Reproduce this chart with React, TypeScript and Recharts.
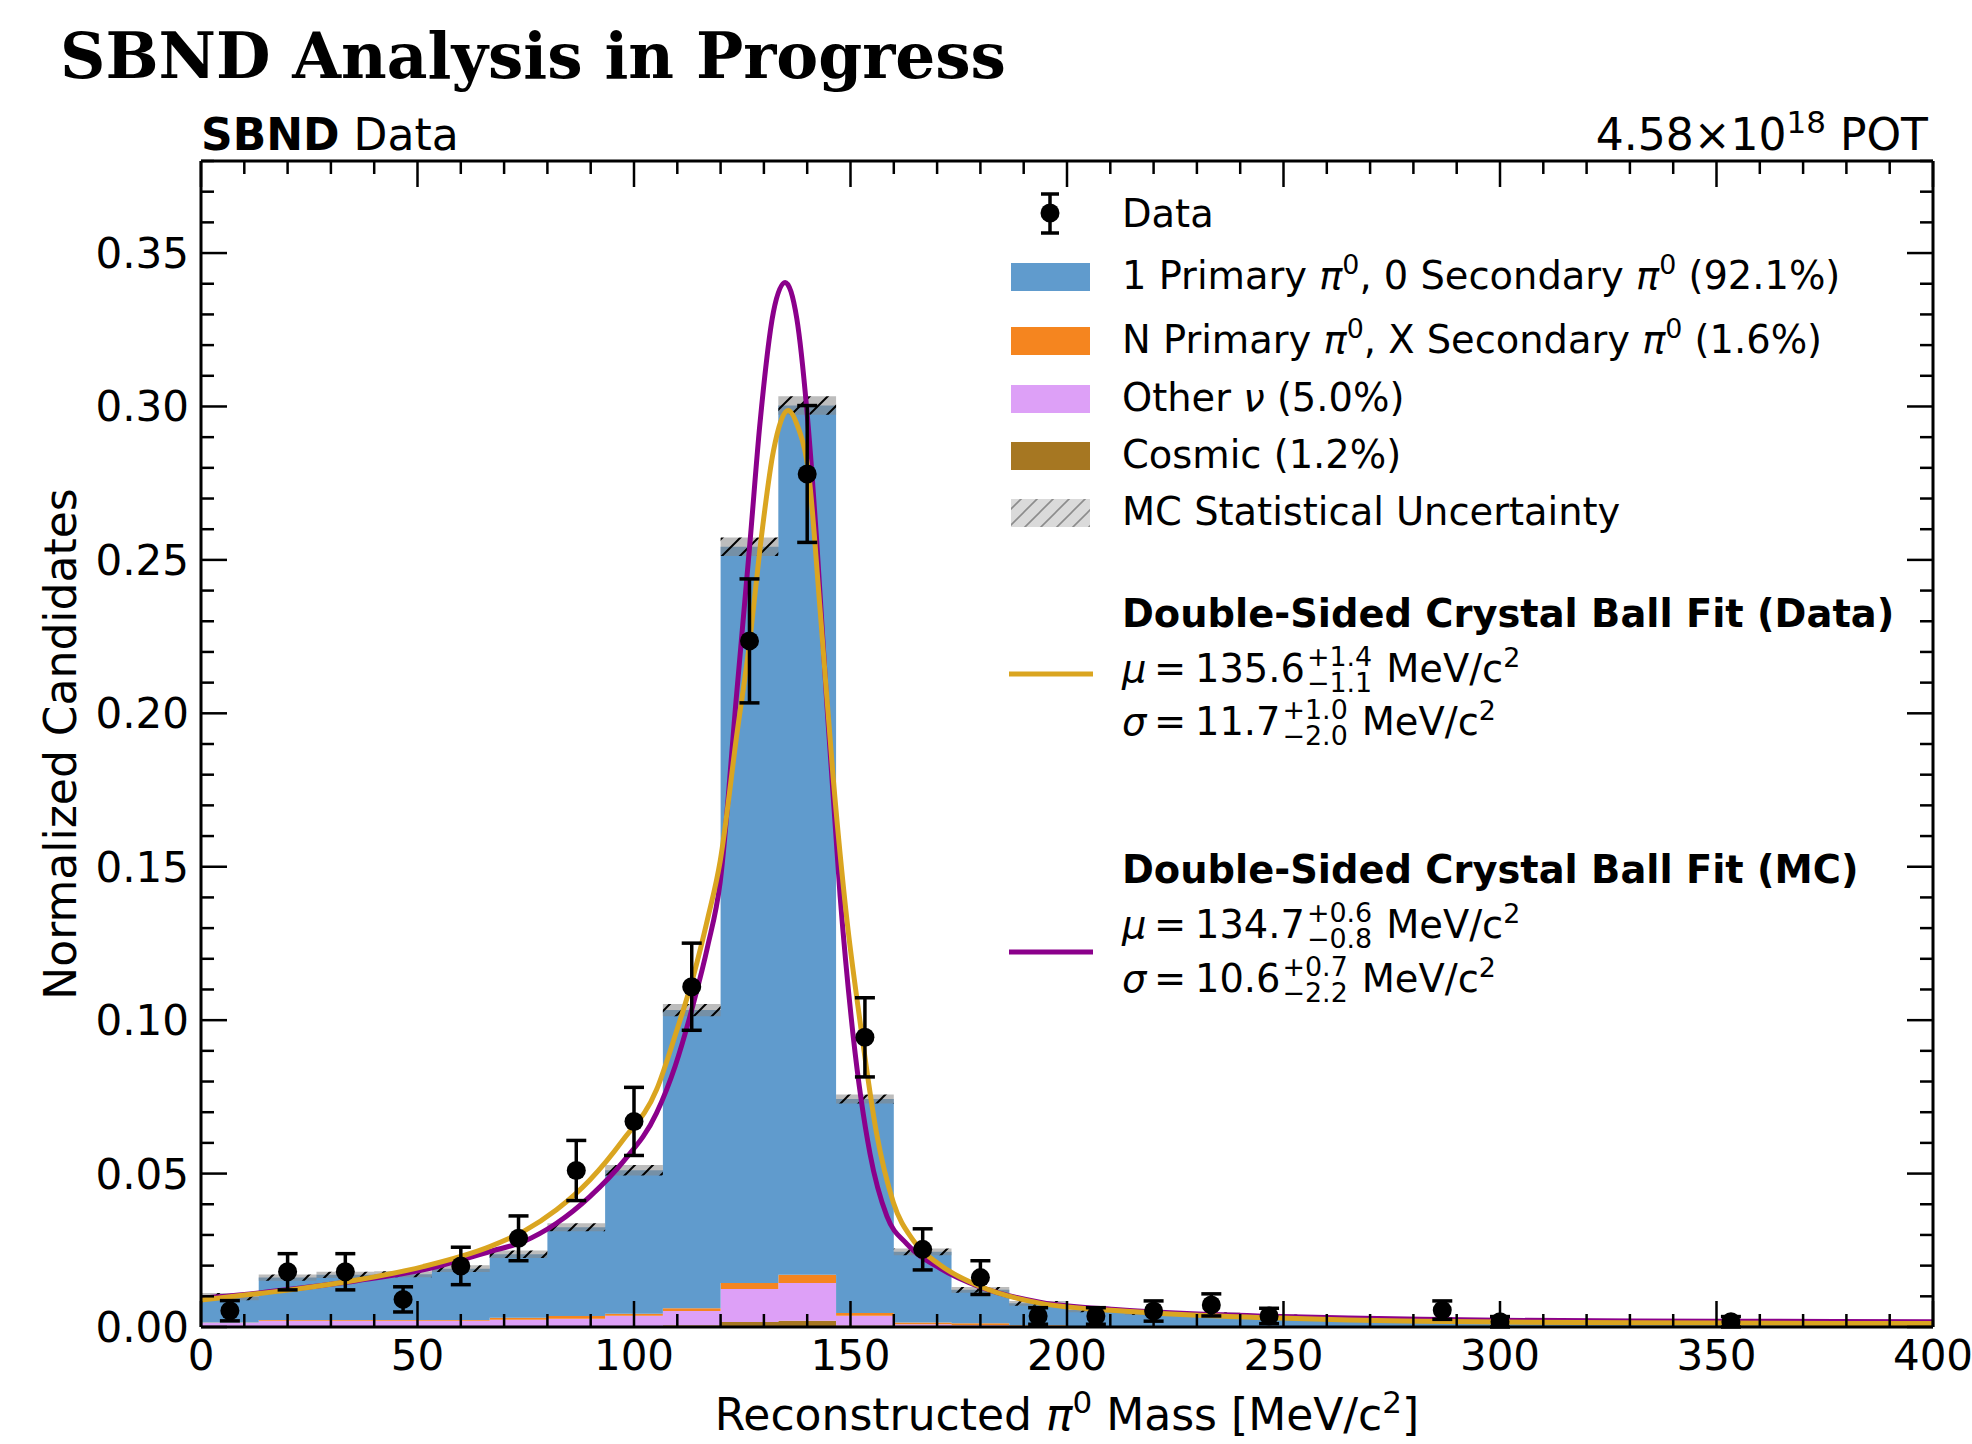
import React from "react";
import { ComposedChart, Area, Line, Scatter, ErrorBar, XAxis, YAxis } from "recharts";

const FONT = "DejaVu Sans";

// histogram bin edges (MeV/c^2), 30 bins
const BIN_EDGES = [
  0, 13.33, 26.67, 40, 53.33, 66.67, 80, 93.33, 106.67, 120, 133.33, 146.67, 160, 173.33, 186.67,
  200, 213.33, 226.67, 240, 253.33, 266.67, 280, 293.33, 306.67, 320, 333.33, 346.67, 360, 373.33, 386.67, 400,
];

// stacked MC components, one value per bin
const COSMIC = [
  0.0002, 0.0002, 0.0002, 0.0002, 0.0002, 0.0002, 0.0003, 0.0003, 0.0006, 0.0016, 0.002, 0.0005, 0.0002, 0.0001, 0.0001,
  0, 0, 0, 0, 0, 0, 0, 0, 0, 0, 0, 0, 0, 0, 0,
];
const OTHER_NU = [
  0.0012, 0.0018, 0.0018, 0.0018, 0.0018, 0.0022, 0.0024, 0.0034, 0.0046, 0.0108, 0.0123, 0.0032, 0.0007, 0.0005, 0.0002,
  0.0001, 0.0001, 0.0001, 0.0001, 0.0001, 0.0001, 0.0001, 0, 0, 0, 0, 0, 0, 0, 0,
];
const N_PRIMARY = [
  0.0001, 0.0003, 0.0003, 0.0003, 0.0003, 0.0006, 0.0009, 0.0006, 0.0009, 0.0019, 0.0027, 0.0009, 0.0006, 0.0006, 0.0003,
  0.0001, 0.0001, 0.0001, 0.0001, 0.0001, 0, 0, 0, 0, 0, 0, 0, 0, 0, 0,
];
const ONE_PRIMARY = [
  0.0084, 0.0138, 0.0147, 0.0149, 0.0167, 0.0207, 0.0289, 0.0468, 0.0972, 0.24, 0.2833, 0.0697, 0.023, 0.0109, 0.0071,
  0.0053, 0.0043, 0.004, 0.0033, 0.0028, 0.0026, 0.0023, 0.0021, 0.0019, 0.0017, 0.0016, 0.0015, 0.0014, 0.0013, 0.0012,
];
const MC_STAT_ERR = [
  0.0012, 0.001, 0.001, 0.001, 0.0011, 0.0012, 0.0013, 0.0017, 0.002, 0.003, 0.003, 0.0015, 0.0011, 0.0009, 0.0008,
  0.0007, 0.0006, 0.0006, 0.0006, 0.0005, 0.0005, 0.0005, 0.0005, 0.0004, 0.0004, 0.0004, 0.0004, 0.0004, 0.0004, 0.0004,
];

// data points
const DATA_X = [6.67, 20, 33.33, 46.67, 60, 73.33, 86.67, 100, 113.33, 126.67, 140, 153.33, 166.67, 180, 193.33, 206.67, 220, 233.33, 246.67, 286.67, 300, 353.33];
const DATA_Y = [0.0053, 0.018, 0.018, 0.009, 0.0199, 0.0289, 0.051, 0.067, 0.1109, 0.2236, 0.278, 0.0944, 0.0253, 0.0161, 0.0036, 0.0036, 0.0052, 0.0072, 0.0036, 0.0055, 0.0017, 0.0017];
const DATA_ERR = [0.0033, 0.0059, 0.0059, 0.0041, 0.0061, 0.0073, 0.0098, 0.0111, 0.0142, 0.0202, 0.0223, 0.0129, 0.0067, 0.0055, 0.0027, 0.0027, 0.0033, 0.0036, 0.0025, 0.003, 0.0017, 0.0017];

// fitted curves
const FIT_DATA_X = [0, 10, 20.6, 36, 51.3, 66.7, 74.4, 82.1, 89.8, 97.5, 105.2, 109.5, 113.7, 117, 119.9, 123.7, 126.8, 129.1, 132.2, 135.6, 137.8, 140.3, 143, 146, 149.1, 152.2, 156, 159.9, 164.5, 170.7, 180, 194, 212, 229, 247, 265, 282, 300, 350, 400];
const FIT_DATA_Y = [0.0088, 0.0104, 0.0121, 0.0153, 0.0197, 0.0262, 0.0311, 0.0382, 0.0479, 0.061, 0.0773, 0.095, 0.1143, 0.133, 0.1518, 0.1926, 0.2243, 0.2537, 0.2855, 0.2987, 0.2935, 0.2787, 0.2334, 0.179, 0.1336, 0.0996, 0.0633, 0.0406, 0.0282, 0.0202, 0.0132, 0.0077, 0.0053, 0.0039, 0.003, 0.0023, 0.0019, 0.0016, 0.0013, 0.0011];
const FIT_MC_X = [0, 10, 20.6, 36, 51.3, 66.7, 74.4, 82.1, 89.8, 97.5, 105.2, 109.5, 113.7, 117, 119.9, 123.7, 126.8, 129.1, 132.2, 134.9, 137.6, 139.9, 142.2, 144.5, 147.6, 150.6, 154.5, 158.4, 163, 170.7, 180, 194, 212, 229, 247, 265, 282, 300, 350, 400];
const FIT_MC_Y = [0.0094, 0.0106, 0.0123, 0.0151, 0.0186, 0.0246, 0.0278, 0.0338, 0.0425, 0.0539, 0.0697, 0.085, 0.1053, 0.124, 0.145, 0.2062, 0.256, 0.2946, 0.3308, 0.3404, 0.3286, 0.2991, 0.256, 0.2039, 0.1404, 0.0951, 0.0565, 0.0361, 0.0271, 0.0191, 0.013, 0.008, 0.0056, 0.0043, 0.0035, 0.0029, 0.0025, 0.0022, 0.0019, 0.0017];

const X_TICKS = [0, 10, 20, 30, 40, 50, 60, 70, 80, 90, 100, 110, 120, 130, 140, 150, 160, 170, 180, 190, 200, 210, 220, 230, 240, 250, 260, 270, 280, 290, 300, 310, 320, 330, 340, 350, 360, 370, 380, 390, 400];
const Y_TICKS = [0, 0.01, 0.02, 0.03, 0.04, 0.05, 0.06, 0.07, 0.08, 0.09, 0.1, 0.11, 0.12, 0.13, 0.14, 0.15, 0.16, 0.17, 0.18, 0.19, 0.2, 0.21, 0.22, 0.23, 0.24, 0.25, 0.26, 0.27, 0.28, 0.29, 0.3, 0.31, 0.32, 0.33, 0.34, 0.35, 0.36, 0.37, 0.38];

const BLUE = "#609bcd";
const ORANGE = "#f5851f";
const PINK = "#dda0f7";
const BROWN = "#a67722";
const GOLD = "#daa520";
const PURPLE = "#8b008b";

const HIST_ROWS = BIN_EDGES.map((x, i) => {
  const b = Math.min(i, ONE_PRIMARY.length - 1);
  const total = COSMIC[b] + OTHER_NU[b] + N_PRIMARY[b] + ONE_PRIMARY[b];
  return {
    x,
    cosmic: COSMIC[b],
    otherNu: OTHER_NU[b],
    nPrimary: N_PRIMARY[b],
    onePrimary: ONE_PRIMARY[b],
    band: [total - MC_STAT_ERR[b], total + MC_STAT_ERR[b]],
  };
});
const DATA_ROWS = DATA_X.map((x, i) => ({ x, y: DATA_Y[i], err: DATA_ERR[i] }));
const FIT_DATA_ROWS = FIT_DATA_X.map((x, i) => ({ x, y: FIT_DATA_Y[i] }));
const FIT_MC_ROWS = FIT_MC_X.map((x, i) => ({ x, y: FIT_MC_Y[i] }));

const isMajorX = (v: number) => Math.round(v) % 50 === 0;
const isMajorY = (v: number) => Math.round(v * 100) % 5 === 0;

function BottomTick({ x, y, payload }: any) {
  const major = isMajorX(payload.value);
  return (
    <g>
      <line x1={x} x2={x} y1={y} y2={y - (major ? 26 : 13)} stroke="#000" strokeWidth={2.5} />
      {major && (
        <text x={x} y={y + 43} textAnchor="middle" fontSize={42} fontFamily={FONT} fill="#000">
          {payload.value}
        </text>
      )}
    </g>
  );
}

function TopTick({ x, y, payload }: any) {
  const major = isMajorX(payload.value);
  return <line x1={x} x2={x} y1={y} y2={y + (major ? 26 : 13)} stroke="#000" strokeWidth={2.5} />;
}

function LeftTick({ x, y, payload }: any) {
  const major = isMajorY(payload.value);
  return (
    <g>
      <line x1={x} x2={x + (major ? 26 : 13)} y1={y} y2={y} stroke="#000" strokeWidth={2.5} />
      {major && (
        <text x={x - 12} y={y + 15} textAnchor="end" fontSize={42} fontFamily={FONT} fill="#000">
          {payload.value.toFixed(2)}
        </text>
      )}
    </g>
  );
}

function RightTick({ x, y, payload }: any) {
  const major = isMajorY(payload.value);
  return <line x1={x} x2={x - (major ? 26 : 13)} y1={y} y2={y} stroke="#000" strokeWidth={2.5} />;
}

const DataDot = (p: any) => <circle cx={p.cx} cy={p.cy} r={9.5} fill="#000" />;

// rough advance widths for the math lines
const textWidth = (s: string, size: number) =>
  s.split("").reduce((w, c) => w + (c === "." ? 0.318 : c === "+" || c === "\u2212" ? 0.838 : 0.636), 0) * size;

const LEG = 38.4;
const SUP = LEG * 0.7;

function MathLine({ sym, value, up, down, y }: { sym: string; value: string; up: string; down: string; y: number }) {
  const xScripts = 1195 + textWidth(value, LEG) + 2;
  const xUnit = xScripts + Math.max(textWidth(up, SUP), textWidth(down, SUP)) + 14;
  return (
    <g fontFamily={FONT} fill="#000">
      <text x={1122} y={y} fontSize={LEG} fontStyle="italic">{sym}</text>
      <text x={1154} y={y} fontSize={LEG}>=</text>
      <text x={1195} y={y} fontSize={LEG}>{value}</text>
      <text x={xScripts} y={y - 16} fontSize={SUP}>{up}</text>
      <text x={xScripts} y={y + 10} fontSize={SUP}>{down}</text>
      <text x={xUnit} y={y} fontSize={LEG}>
        MeV/c<tspan dy={-15} fontSize={SUP}>2</tspan>
      </text>
    </g>
  );
}

function PionRow({ y, a, b, tail }: { y: number; a: string; b: string; tail: string }) {
  return (
    <text x={1122} y={y} fontFamily={FONT} fontSize={LEG} fill="#000">
      <tspan>{a} </tspan>
      <tspan fontStyle="italic">π</tspan>
      <tspan dy={-15} fontSize={SUP}>0</tspan>
      <tspan dy={15}>{", " + b + " "}</tspan>
      <tspan fontStyle="italic">π</tspan>
      <tspan dy={-15} fontSize={SUP}>0</tspan>
      <tspan dy={15}>{" " + tail}</tspan>
    </text>
  );
}

function Overlay() {
  return (
    <svg width={1972} height={1444} style={{ position: "absolute", left: 0, top: 0, pointerEvents: "none" }}>
      <text x={60} y={78} fontFamily="DejaVu Serif" fontWeight="bold" fontSize={64} textLength={946} lengthAdjust="spacingAndGlyphs" fill="#000">
        SBND Analysis in Progress
      </text>
      <text x={201} y={150} fontFamily={FONT} fontSize={44} fill="#000">
        <tspan fontWeight="bold">SBND</tspan>
        <tspan> Data</tspan>
      </text>
      <text x={1928} y={150} fontFamily={FONT} fontSize={44} textAnchor="end" fill="#000">
        <tspan>4.58×10</tspan>
        <tspan dy={-17} fontSize={31}>18</tspan>
        <tspan dy={17}> POT</tspan>
      </text>

      <text transform="translate(76,744) rotate(-90)" textAnchor="middle" fontFamily={FONT} fontSize={44} fill="#000">
        Normalized Candidates
      </text>
      <text x={1067} y={1430} textAnchor="middle" fontFamily={FONT} fontSize={44} fill="#000">
        <tspan>Reconstructed </tspan>
        <tspan fontStyle="italic">π</tspan>
        <tspan dy={-17} fontSize={31}>0</tspan>
        <tspan dy={17}> Mass [MeV/c</tspan>
        <tspan dy={-17} fontSize={31}>2</tspan>
        <tspan dy={17}>]</tspan>
      </text>

      {/* legend */}
      <g>
        <line x1={1050} x2={1050} y1={194} y2={233} stroke="#000" strokeWidth={3.5} />
        <line x1={1041} x2={1059} y1={194} y2={194} stroke="#000" strokeWidth={3.5} />
        <line x1={1041} x2={1059} y1={233} y2={233} stroke="#000" strokeWidth={3.5} />
        <circle cx={1050} cy={213} r={9.5} fill="#000" />
        <rect x={1011} y={263} width={79} height={28} fill={BLUE} />
        <rect x={1011} y={327} width={79} height={28} fill={ORANGE} />
        <rect x={1011} y={385} width={79} height={28} fill={PINK} />
        <rect x={1011} y={442} width={79} height={28} fill={BROWN} />
        <rect x={1011} y={499} width={79} height={28} fill="url(#legendHatch)" />
        <g fontFamily={FONT} fontSize={LEG} fill="#000">
          <text x={1122} y={227}>Data</text>
          <text x={1122} y={411}>
            <tspan>Other </tspan>
            <tspan fontStyle="italic">ν</tspan>
            <tspan> (5.0%)</tspan>
          </text>
          <text x={1122} y={468}>Cosmic (1.2%)</text>
          <text x={1122} y={525}>MC Statistical Uncertainty</text>
          <text x={1122} y={627} fontWeight="bold">Double-Sided Crystal Ball Fit (Data)</text>
          <text x={1122} y={883} fontWeight="bold">Double-Sided Crystal Ball Fit (MC)</text>
        </g>
        <PionRow y={289} a="1 Primary" b="0 Secondary" tail="(92.1%)" />
        <PionRow y={353} a="N Primary" b="X Secondary" tail="(1.6%)" />
        <line x1={1009} x2={1093} y1={674} y2={674} stroke={GOLD} strokeWidth={5} />
        <MathLine sym="μ" value="135.6" up="+1.4" down={"\u22121.1"} y={682} />
        <MathLine sym="σ" value="11.7" up="+1.0" down={"\u22122.0"} y={735} />
        <line x1={1009} x2={1093} y1={952} y2={952} stroke={PURPLE} strokeWidth={5} />
        <MathLine sym="μ" value="134.7" up="+0.6" down={"\u22120.8"} y={938} />
        <MathLine sym="σ" value="10.6" up="+0.7" down={"\u22122.2"} y={992} />
      </g>
    </svg>
  );
}

export default function App() {
  return (
    <div style={{ position: "absolute", left: 0, top: 0, width: 1972, height: 1444, background: "#fff" }}>
      <svg width={0} height={0} style={{ position: "absolute" }}>
        <defs>
          <pattern id="mcHatch" patternUnits="userSpaceOnUse" width={18} height={18}>
            <rect width={18} height={18} fill="#878787" fillOpacity={0.55} />
            <path d="M-4.5,4.5 L4.5,-4.5 M0,18 L18,0 M13.5,22.5 L22.5,13.5" stroke="#000" strokeWidth={2} />
          </pattern>
          <pattern id="legendHatch" patternUnits="userSpaceOnUse" width={16} height={16}>
            <rect width={16} height={16} fill="#dadada" />
            <path d="M-4,4 L4,-4 M0,16 L16,0 M12,20 L20,12" stroke="#8c8c8c" strokeWidth={1.6} />
          </pattern>
        </defs>
      </svg>
      <ComposedChart width={1972} height={1444} data={HIST_ROWS} margin={{ top: 151, right: 29, bottom: 57, left: 81 }}>
        <XAxis
          type="number"
          dataKey="x"
          domain={[0, 400]}
          ticks={X_TICKS}
          interval={0}
          allowDataOverflow
          height={60}
          tickSize={0}
          tickMargin={0}
          tickLine={false}
          tick={<BottomTick />}
          axisLine={{ stroke: "#000", strokeWidth: 3 }}
        />
        <XAxis
          xAxisId="top"
          orientation="top"
          type="number"
          dataKey="x"
          domain={[0, 400]}
          ticks={X_TICKS}
          interval={0}
          allowDataOverflow
          height={10}
          tickSize={0}
          tickMargin={0}
          tickLine={false}
          tick={<TopTick />}
          axisLine={{ stroke: "#000", strokeWidth: 3 }}
        />
        <YAxis
          type="number"
          domain={[0, 0.38]}
          ticks={Y_TICKS}
          interval={0}
          allowDataOverflow
          width={120}
          tickSize={0}
          tickMargin={0}
          tickLine={false}
          tick={<LeftTick />}
          axisLine={{ stroke: "#000", strokeWidth: 3 }}
        />
        <YAxis
          yAxisId="right"
          orientation="right"
          type="number"
          domain={[0, 0.38]}
          ticks={Y_TICKS}
          interval={0}
          allowDataOverflow
          width={10}
          tickSize={0}
          tickMargin={0}
          tickLine={false}
          tick={<RightTick />}
          axisLine={{ stroke: "#000", strokeWidth: 3 }}
        />
        <Area type="stepAfter" dataKey="cosmic" stackId="mc" fill={BROWN} fillOpacity={1} stroke="none" isAnimationActive={false} />
        <Area type="stepAfter" dataKey="otherNu" stackId="mc" fill={PINK} fillOpacity={1} stroke="none" isAnimationActive={false} />
        <Area type="stepAfter" dataKey="nPrimary" stackId="mc" fill={ORANGE} fillOpacity={1} stroke="none" isAnimationActive={false} />
        <Area type="stepAfter" dataKey="onePrimary" stackId="mc" fill={BLUE} fillOpacity={1} stroke="none" isAnimationActive={false} />
        <Area type="stepAfter" dataKey="band" fill="url(#mcHatch)" fillOpacity={1} stroke="none" isAnimationActive={false} />
        <Line data={FIT_MC_ROWS} dataKey="y" type="monotone" stroke={PURPLE} strokeWidth={5} dot={false} activeDot={false} isAnimationActive={false} />
        <Line data={FIT_DATA_ROWS} dataKey="y" type="monotone" stroke={GOLD} strokeWidth={5} dot={false} activeDot={false} isAnimationActive={false} />
        <Scatter data={DATA_ROWS} dataKey="y" shape={DataDot} isAnimationActive={false}>
          <ErrorBar dataKey="err" direction="y" width={10} strokeWidth={3.5} stroke="#000" isAnimationActive={false} />
        </Scatter>
      </ComposedChart>
      <Overlay />
    </div>
  );
}
